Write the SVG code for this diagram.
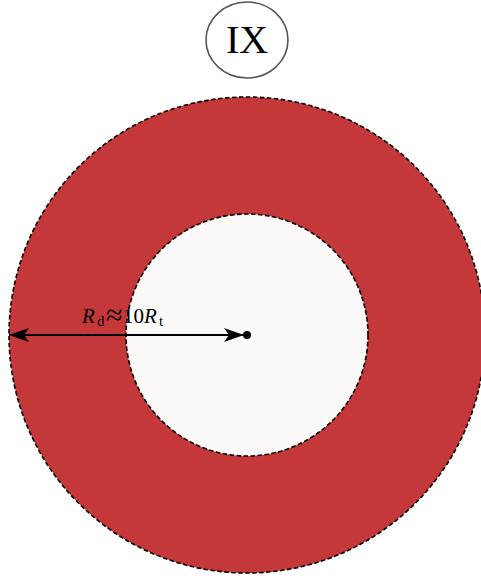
<svg xmlns="http://www.w3.org/2000/svg" width="481" height="578" viewBox="0 0 481 578">
<style>
.ring{stroke:#000;stroke-width:1.6;stroke-dasharray:4.5 2.5}
.lbl{font-family:"Liberation Serif","Times New Roman",serif;fill:#000}
</style>
<defs>
<marker id="ah" viewBox="0 0 20 14" refX="20" refY="7" markerWidth="20" markerHeight="14" markerUnits="userSpaceOnUse" orient="auto-start-reverse">
<path d="M0,0 L20,7 L0,14 L5,7 Z" fill="#000"/>
</marker>
</defs>
<rect width="481" height="578" fill="#fff"/>
<g id="disk">
<circle cx="247" cy="335" r="238" fill="#c4383a" class="ring"/>
</g>
<g id="core">
<circle cx="247" cy="335" r="121" fill="#fbfaf9" class="ring"/>
</g>
<g id="label-ix">
<ellipse cx="247" cy="40" rx="41" ry="38" fill="#fff" stroke="#555" stroke-width="1.6"/>
<text x="247" y="53" text-anchor="middle" class="lbl" font-size="40">IX</text>
</g>
<g id="connectors">
<line x1="9" y1="335" x2="244" y2="335" stroke="#000" stroke-width="2" marker-start="url(#ah)" marker-end="url(#ah)"/>
<circle cx="247" cy="335" r="4" fill="#000"/>
</g>
<g id="radius-label">
<text y="323" class="lbl" font-size="21"><tspan x="82" font-style="italic">R</tspan><tspan x="97" font-size="15" dy="3">d</tspan><tspan x="106" font-size="30" dy="-1">≈</tspan><tspan x="123" dy="-2">10</tspan><tspan x="144" font-style="italic">R</tspan><tspan x="159" font-size="15" dy="3">t</tspan></text>
</g>
</svg>
